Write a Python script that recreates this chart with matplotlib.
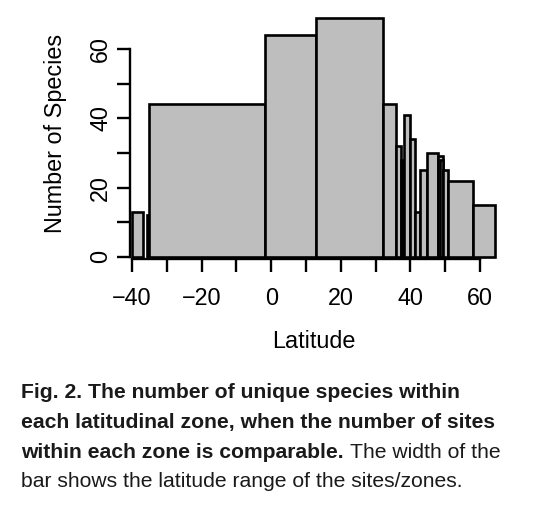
import matplotlib
matplotlib.use('Agg')
import matplotlib.pyplot as plt
from matplotlib import font_manager
from matplotlib.patches import Rectangle

# latitude range of each site/zone and unique species found there
lat_lo = [-40.0, -35.7, -35.0, -1.9, 12.8, 32.2, 35.8, 37.2, 37.5, 38.0,
          40.0, 41.4, 42.7, 44.8, 47.9, 48.4, 49.4, 50.8, 57.9]
lat_hi = [-36.8, -35.0, -1.9, 12.8, 32.2, 35.8, 37.2, 37.9, 38.0, 40.0,
          41.4, 42.7, 44.8, 47.9, 49.4, 49.4, 50.8, 57.9, 64.3]
n_species = [13, 12, 44, 64, 69, 44, 32, 28, 25, 41,
             34, 13, 25, 30, 29, 28, 25, 22, 15]

x_ticks = [-40, -30, -20, -10, 0, 10, 20, 30, 40, 50, 60]
x_labels = ['\u221240', '', '\u221220', '', '0', '', '20', '', '40', '', '60']
y_ticks = [0, 10, 20, 30, 40, 50, 60]
y_labels = ['0', '', '20', '', '40', '', '60']

caption_bold = ['Fig. 2. The number of unique species within',
                'each latitudinal zone, when the number of sites',
                'within each zone is comparable.']
caption_plain = ['The width of the',
                 'bar shows the latitude range of the sites/zones.']

names = {f.name for f in font_manager.fontManager.ttflist}
cap_font = 'Liberation Sans Narrow' if 'Liberation Sans Narrow' in names else 'Liberation Sans'

plt.rcParams['font.family'] = ['Liberation Sans', 'DejaVu Sans']

fig = plt.figure(figsize=(5.36, 5.16), dpi=100)
ax = fig.add_axes([130 / 536, 1 - 259.3 / 516, 367.5 / 536, 244.8 / 516])

for lo, hi, n in zip(lat_lo, lat_hi, n_species):
    ax.add_patch(Rectangle((lo, 0), hi - lo, n, facecolor='#bebebe',
                           edgecolor='black', linewidth=1.9))

ax.set_xlim(-40.6, 65)
ax.set_ylim(-0.75, 70)
for s in ['top', 'right']:
    ax.spines[s].set_visible(False)
ax.spines['bottom'].set_bounds(-40, 60)
ax.spines['left'].set_bounds(0, 60)
for s in ['bottom', 'left']:
    ax.spines[s].set_linewidth(1.7)

ax.set_xticks(x_ticks)
ax.set_xticklabels(x_labels)
ax.set_yticks(y_ticks)
ax.set_yticklabels(y_labels, rotation=90, va='center')
ax.tick_params(direction='out', length=9.3, width=1.7, labelsize=16.8)
ax.tick_params(axis='x', pad=10.5)
ax.tick_params(axis='y', pad=3.5)

ax.set_xlabel('Latitude', fontsize=16.8)
ax.xaxis.set_label_coords(0.5, -0.337)
ax.xaxis.label.set_va('center')
ax.set_ylabel('Number of Species', fontsize=16.8)
ax.yaxis.set_label_coords(-0.204, 0.516)
ax.yaxis.label.set_va('center')

# caption below the chart
baselines = [398, 428, 458, 487]
cap_size = 15.2
for i, line in enumerate(caption_bold):
    fig.text(21 / 536, 1 - baselines[i] / 516, line, fontsize=cap_size,
             fontweight='bold', family=cap_font, va='baseline', color='#1a1a1a')
fig.canvas.draw()
bold_end = fig.texts[2].get_window_extent().x1
fig.text(bold_end / 536 + 6 / 536, 1 - baselines[2] / 516, caption_plain[0],
         fontsize=cap_size, family=cap_font, va='baseline', color='#1a1a1a')
fig.text(21 / 536, 1 - baselines[3] / 516, caption_plain[1], fontsize=cap_size,
         family=cap_font, va='baseline', color='#1a1a1a')

fig.savefig('out.png', dpi=100)
